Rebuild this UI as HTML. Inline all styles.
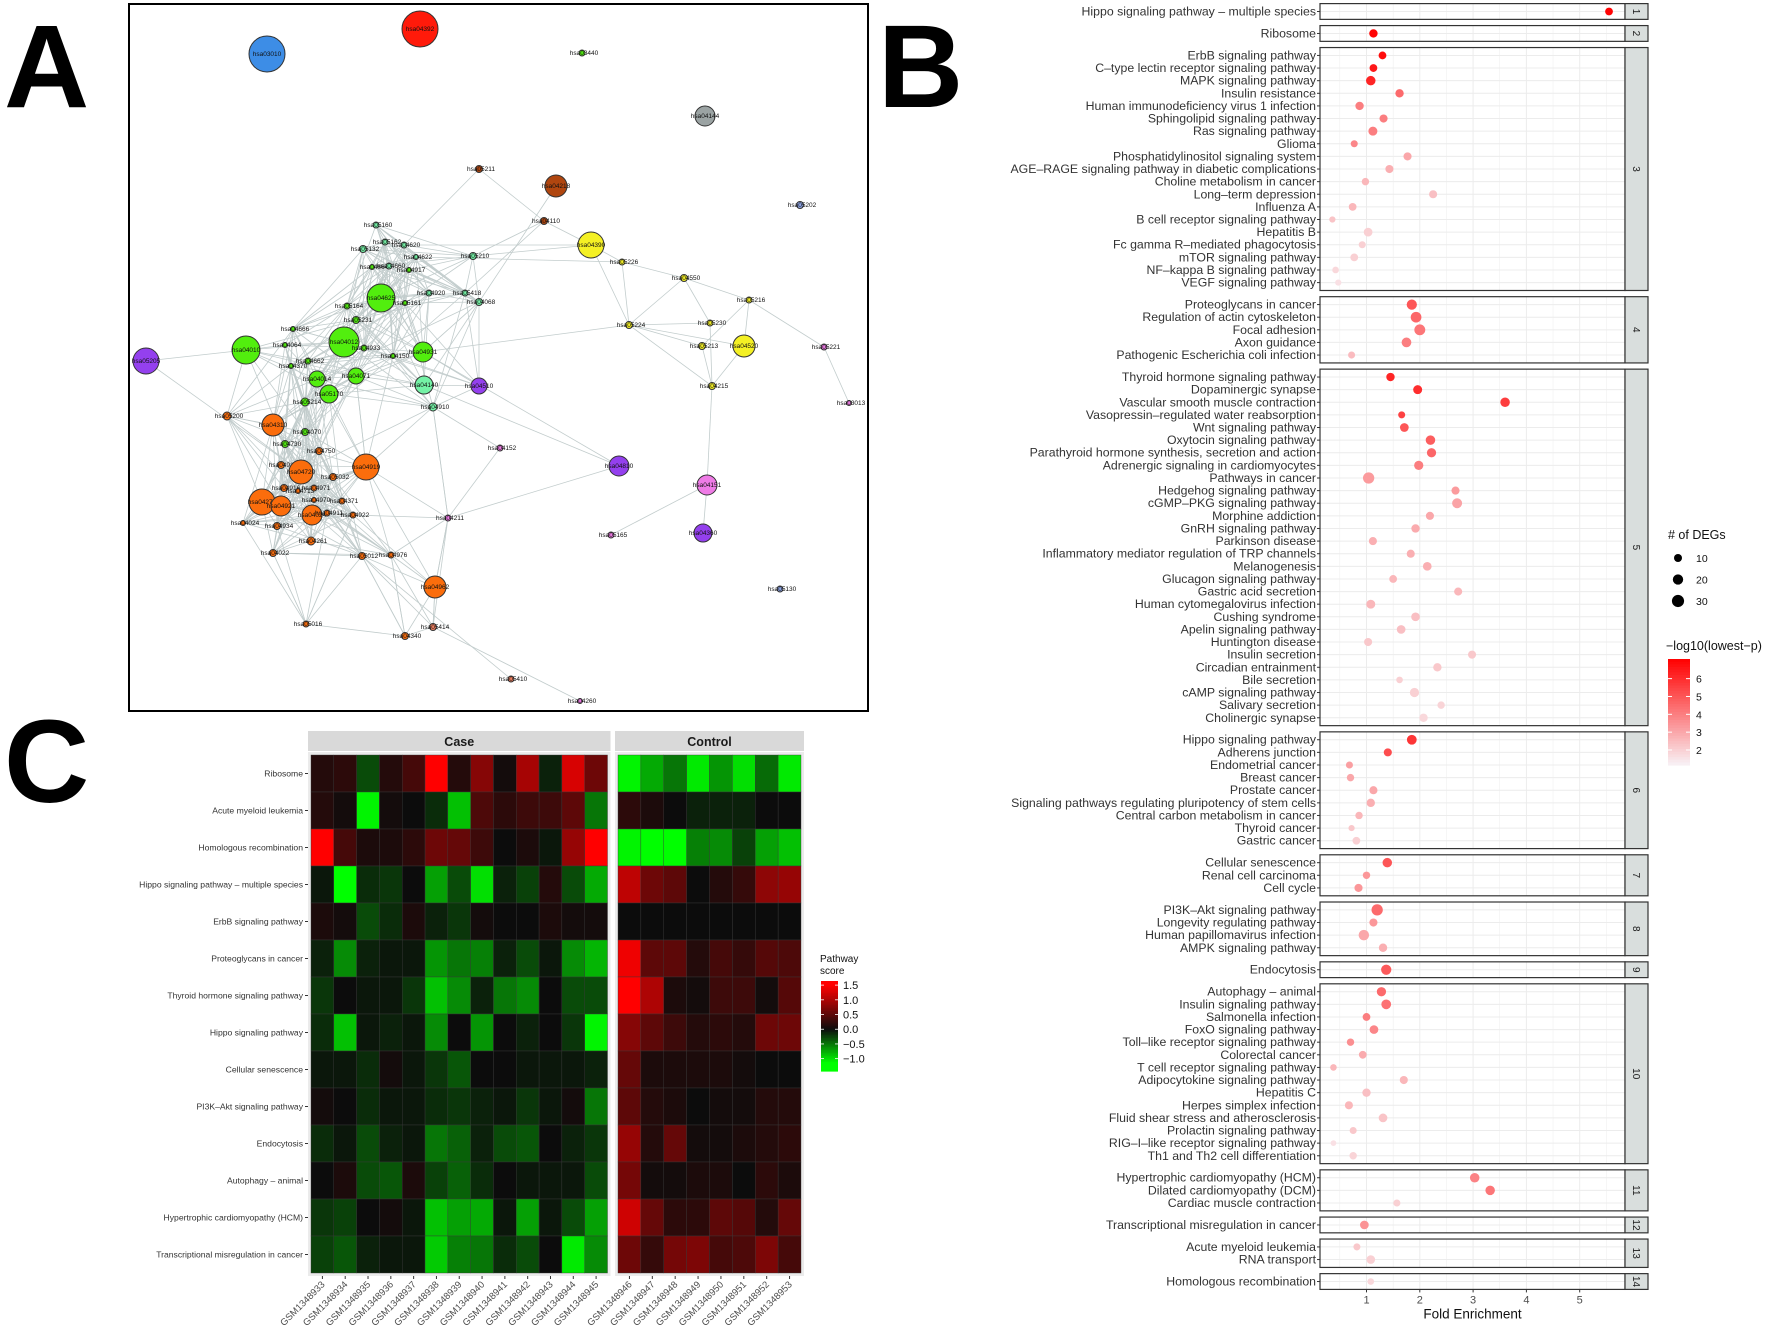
<!DOCTYPE html>
<html><head><meta charset="utf-8"><style>
html,body{margin:0;padding:0;background:#fff;}
svg{display:block;font-family:"Liberation Sans",sans-serif;}
</style></head><body>
<svg id="fig" width="1772" height="1327" viewBox="0 0 1772 1327" xmlns="http://www.w3.org/2000/svg">
<text x="4" y="107" font-size="118" font-weight="bold">A</text>
<text x="878" y="107" font-size="118" font-weight="bold">B</text>
<text x="4" y="802" font-size="118" font-weight="bold">C</text>
<rect x="129" y="4" width="739" height="707" fill="#fff" stroke="#000" stroke-width="2"/>
<g id="net"></g>
<g id="heat"></g>
<g id="dot"></g>
</svg>
<script>
const NS="http://www.w3.org/2000/svg";
function mk(tag,attrs,parent){const e=document.createElementNS(NS,tag);for(const k in attrs)e.setAttribute(k,attrs[k]);parent.appendChild(e);return e;}

/* ---------------- Network ---------------- */
const C={o:"#fb6d0c",g:"#52ee0e",m:"#74f2a6",lg:"#5fdc7a",b:"#b0460f",y:"#f4f024",p:"#9440ee",k:"#ef7be6",bl:"#3d8de6",gr:"#9ba3a3",lv:"#8fa6e8",s:"#f08060"};
const nodeNames=["hsa04392","hsa03010","hsa03440","hsa04144","hsa05202","hsa04390","hsa05226","hsa04550","hsa05216","hsa05224","hsa05230","hsa05213","hsa04520","hsa05221","hsa04215","hsa03013","hsa04810","hsa04151","hsa04360","hsa05165","hsa05130","hsa04260","hsa05410","hsa05211","hsa04218","hsa04110","hsa05160","hsa05162","hsa04620","hsa05132","hsa04622","hsa05210","hsa04664","hsa04660","hsa04917","hsa04625","hsa04920","hsa05418","hsa04068","hsa05164","hsa05161","hsa05231","hsa04666","hsa04012","hsa04064","hsa04933","hsa04010","hsa04150","hsa04931","hsa05205","hsa04662","hsa04370","hsa04014","hsa04071","hsa04140","hsa04510","hsa05170","hsa05214","hsa04910","hsa05200","hsa04310","hsa04070","hsa04730","hsa04750","hsa04152","hsa04912","hsa04720","hsa04919","hsa05032","hsa04916","hsa04713","hsa04971","hsa04270","hsa04921","hsa04970","hsa04371","hsa04024b","hsa04911","hsa04922","hsa04211","hsa04024","hsa04934","hsa04261","hsa04022","hsa05012","hsa04976","hsa04962","hsa05016","hsa05414","hsa04340"];
const nodeX=[420,267,582,705,800,591,622,684,749,629,710,702,744,824,712,849,619,707,703,611,780,580,511,479,556,544,376,385,404,363,416,473,372,389,409,381,429,465,479,347,405,356,293,344,285,364,246,393,423,146,308,291,317,356,424,479,329,305,433,227,273,305,285,319,500,281,301,366,333,284,298,314,262,281,314,342,312,327,353,448,243,277,311,273,362,391,435,306,433,405];
const nodeY=[29,54,53,116,205,245,262,278,300,325,323,346,346,347,386,403,466,485,533,535,589,701,679,169,186,221,225,242,245,249,257,256,267,266,270,298,293,293,302,306,303,320,329,342,345,348,350,356,352,361,361,366,379,376,385,386,394,402,407,416,425,432,444,451,448,465,472,467,477,488,491,488,502,506,500,501,515,513,515,518,523,526,541,553,556,555,587,624,627,636];
const nodeR=[18,18,3,10,3.5,13,3,3.5,3,3.5,3,3.5,11,3,3.5,2.5,10,10,9,3,3,2.5,3,3.5,11,3.5,3,3,3,3.5,2.5,3.5,2.5,3,2.5,14,3,3,3.5,3,2.5,3.5,2.5,15,2.5,3,14,2.5,10,13,3,2.5,8,8,9,8,9,4,4,4,11,3.5,3.5,3.5,3,3.5,12,13,3.5,3.5,2.5,3,13,10,2.5,3,10,3,3,3,2.5,3.5,4,3.5,3.5,3,11,3,3.5,3.5];
const nodeC=["#ff1a0a",C.bl,C.g,C.gr,C.lv,C.y,C.y,C.y,C.y,C.y,C.y,C.y,C.y,C.k,C.y,C.k,C.p,C.k,C.p,C.k,C.lv,C.k,C.s,C.b,C.b,C.b,C.m,C.m,C.m,C.m,C.m,C.m,C.g,C.m,C.g,C.g,C.m,C.m,C.m,C.g,C.g,C.g,C.g,C.g,C.g,C.g,C.g,C.g,C.g,C.p,C.g,C.g,C.g,C.g,C.m,C.p,C.g,C.g,C.m,C.o,C.o,C.g,C.g,C.o,C.k,C.o,C.o,C.o,C.o,C.o,C.o,C.o,C.o,C.o,C.o,C.o,C.o,C.o,C.o,C.k,C.o,C.o,C.o,C.o,C.o,C.o,C.o,C.o,C.s,C.o];
const extraEdges=[["hsa05211","hsa04620"],["hsa05211","hsa04110"],["hsa04218","hsa04068"],["hsa04110","hsa04390"],["hsa04110","hsa05210"],["hsa04110","hsa05418"],["hsa04390","hsa05210"],["hsa04390","hsa04620"],["hsa04390","hsa05224"],["hsa04390","hsa05226"],["hsa05226","hsa04550"],["hsa05226","hsa05224"],["hsa05226","hsa04622"],["hsa04550","hsa05224"],["hsa04550","hsa05230"],["hsa04550","hsa05216"],["hsa05216","hsa05213"],["hsa05216","hsa05221"],["hsa05216","hsa04520"],["hsa05224","hsa05230"],["hsa05224","hsa05213"],["hsa05224","hsa04520"],["hsa05224","hsa04215"],["hsa05230","hsa04215"],["hsa05213","hsa04215"],["hsa04520","hsa04215"],["hsa05221","hsa03013"],["hsa04931","hsa05224"],["hsa05205","hsa04010"],["hsa05205","hsa04720"],["hsa04810","hsa04140"],["hsa04810","hsa04931"],["hsa04151","hsa05165"],["hsa04151","hsa04360"],["hsa04152","hsa04211"],["hsa04152","hsa04910"],["hsa04211","hsa04962"],["hsa04211","hsa04922"],["hsa04211","hsa04810"],["hsa04211","hsa04910"],["hsa05414","hsa04260"],["hsa05414","hsa04962"],["hsa04962","hsa04340"],["hsa05016","hsa04022"],["hsa05016","hsa04922"],["hsa05410","hsa05012"],["hsa04510","hsa04931"],["hsa04919","hsa04071"],["hsa04910","hsa04720"],["hsa04215","hsa04151"],["hsa04962","hsa04919"],["hsa04340","hsa05012"],["hsa04340","hsa04976"],["hsa05414","hsa05012"],["hsa04068","hsa04931"],["hsa04068","hsa04014"],["hsa04510","hsa04140"],["hsa04510","hsa04012"]];
(function(){
  const g=document.getElementById('net');
  const eg=mk('g',{stroke:"#b8c4c4","stroke-width":"0.8",opacity:"0.85"},g);
  
  
  const idx={};nodeNames.forEach((n,i)=>idx[n]=i);
  const clusterMinY=215,clusterMaxX=490;
  for(let i=0;i<nodeNames.length;i++)for(let j=i+1;j<nodeNames.length;j++){
    const a=[nodeX[i],nodeY[i]],b=[nodeX[j],nodeY[j]];
    if(a[0]>clusterMaxX||b[0]>clusterMaxX||a[1]<clusterMinY||b[1]<clusterMinY)continue;
    if(a[0]<200||b[0]<200)continue;
    const d=Math.hypot(a[0]-b[0],a[1]-b[1]);
    if(d<120&&((i*7+j*13)%3!==1)){const l=mk('line',{x1:a[0],y1:a[1],x2:b[0],y2:b[1]},eg);}
  }
  extraEdges.forEach(e=>{const a=idx[e[0]],b=idx[e[1]];if(a===undefined||b===undefined)return;
    const l=mk('line',{x1:nodeX[a],y1:nodeY[a],x2:nodeX[b],y2:nodeY[b]},eg);
    
    });
  nodeNames.forEach((n,i)=>{
    const c=mk('circle',{cx:nodeX[i],cy:nodeY[i],r:nodeR[i],fill:nodeC[i],stroke:"#333","stroke-width":"1"},g);
    
    
    const big=nodeR[i]>=8;
    const t=mk('text',{x:big?nodeX[i]:nodeX[i]+2,y:nodeY[i]+2,"font-size":"6.5","text-anchor":"middle",fill:"#111"},g);
    t.textContent=n.replace('b','');
    
    
  });
})();

/* ---------------- Heatmap ---------------- */
const hmRows=["Ribosome","Acute myeloid leukemia","Homologous recombination","Hippo signaling pathway \u2013 multiple species","ErbB signaling pathway","Proteoglycans in cancer","Thyroid hormone signaling pathway","Hippo signaling pathway","Cellular senescence","PI3K\u2013Akt signaling pathway","Endocytosis","Autophagy \u2013 animal","Hypertrophic cardiomyopathy (HCM)","Transcriptional misregulation in cancer"];
const caseSamples=["GSM1348933","GSM1348934","GSM1348935","GSM1348936","GSM1348937","GSM1348938","GSM1348939","GSM1348940","GSM1348941","GSM1348942","GSM1348943","GSM1348944","GSM1348945"];
const controlSamples=["GSM1348946","GSM1348947","GSM1348948","GSM1348949","GSM1348950","GSM1348951","GSM1348952","GSM1348953"];
const caseValues=[
[0.15,0.2,-0.3,0.15,0.35,1.5,0.15,0.75,0.05,0.95,-0.1,1.25,0.6],
[0.15,0.05,-1.1,0.05,0,-0.15,-0.85,0.4,0.2,0.3,0.3,0.5,-0.5],
[1.5,0.35,0.1,0.1,0.2,0.6,0.55,0.3,0,0.1,-0.05,0.85,1.5],
[-0.05,-1.15,-0.15,-0.2,0,-0.7,-0.3,-1.0,-0.1,-0.25,0.15,-0.3,-0.75],
[0.1,0.05,-0.3,-0.15,0.1,-0.1,-0.2,0.05,0,0,0.1,0.05,0.05],
[-0.1,-0.6,-0.1,-0.05,-0.05,-0.65,-0.5,-0.55,-0.1,-0.3,-0.05,-0.6,-0.8],
[-0.2,0,-0.05,-0.05,-0.2,-0.85,-0.6,-0.1,-0.5,-0.6,0,-0.3,-0.3],
[-0.15,-0.85,-0.05,-0.1,-0.05,-0.6,0,-0.65,0,-0.1,0,-0.2,-1.1],
[-0.05,-0.05,-0.15,0.05,-0.05,-0.2,-0.35,0,0,-0.05,-0.05,-0.05,-0.1],
[0.05,0,-0.15,-0.05,-0.05,-0.15,-0.2,-0.1,-0.05,-0.2,-0.05,0.05,-0.5],
[-0.15,-0.05,-0.3,-0.1,-0.05,-0.5,-0.4,-0.1,-0.3,-0.35,0,-0.1,-0.2],
[0,0.1,-0.3,-0.35,0.1,-0.25,-0.4,-0.15,0,-0.05,-0.05,-0.05,-0.3],
[-0.2,-0.25,0,0.05,-0.05,-0.85,-0.7,-0.75,-0.05,-0.7,-0.05,-0.3,-0.7],
[-0.25,-0.35,-0.1,-0.05,-0.05,-0.9,-0.55,-0.5,-0.15,-0.3,0,-1.05,-0.6]];
const controlValues=[
[-1.1,-0.75,-0.5,-1.05,-0.65,-1.0,-0.45,-1.05],
[0.2,0.1,0,-0.1,-0.1,-0.1,0,0],
[-1.1,-1.15,-1.2,-0.55,-0.6,-0.25,-0.7,-0.85],
[1.1,0.6,0.5,0,0.15,0.25,0.8,0.85],
[0,0,0,0,0,0,0,0],
[1.4,0.5,0.5,0.15,0.35,0.25,0.45,0.4],
[1.5,1.0,0.1,0.05,0.3,0.3,0.05,0.45],
[0.75,0.5,0.3,0.15,0.2,0.15,0.6,0.6],
[0.55,0.1,0.1,0.1,0.1,0.05,0,0],
[0.5,0.15,0.1,0,0.05,0.05,0.15,0.15],
[0.85,0.15,0.55,0.05,0.05,0.1,0.15,0.2],
[0.65,0.05,0.05,0.1,0.1,0,0.2,0.1],
[1.2,0.55,0.2,0.2,0.5,0.45,0.15,0.55],
[0.6,0.25,0.65,0.7,0.35,0.4,0.7,0.35]];
const legendTicks=[1.5,1.0,0.5,0.0,-0.5,-1.0];
function hmColor(v){
  if(v>=0){const f=Math.min(1,v/1.5);return `rgb(${Math.round(12+243*f)},${Math.round(12*(1-f))},${Math.round(12*(1-f))})`;}
  const f=Math.min(1,-v/1.15);return `rgb(${Math.round(12*(1-f))},${Math.round(12+243*f)},${Math.round(12*(1-f))})`;
}
(function(){
  const g=document.getElementById('heat');
  const top=755,bottom=1273,rh=(bottom-top)/hmRows.length;
  const panels=[{x0:311,x1:607.5,s:caseSamples,v:caseValues,t:"Case",n:"case"},{x0:618,x1:801,s:controlSamples,v:controlValues,t:"Control",n:"control"}];
  panels.forEach(p=>{
    const bg=mk('rect',{x:p.x0-3,y:top-3,width:p.x1-p.x0+6,height:bottom-top+6,fill:"#ebebeb"},g);
    
    const st=mk('rect',{x:p.x0-3,y:731,width:p.x1-p.x0+6,height:20,fill:"#d9d9d9"},g);
    
    const tt=mk('text',{x:(p.x0+p.x1)/2,y:746,"font-size":"12.5","font-weight":"bold","text-anchor":"middle",fill:"#1a1a1a"},g);
    tt.textContent=p.t;
    const cw=(p.x1-p.x0)/p.s.length;
    p.v.forEach((row,ri)=>row.forEach((v,ci)=>{
      const r=mk('rect',{x:p.x0+ci*cw,y:top+ri*rh,width:cw,height:rh,fill:hmColor(v),stroke:"#3a3a3a","stroke-width":"0.4"},g);
      
    }));
    p.s.forEach((s,ci)=>{
      const cx=p.x0+(ci+0.5)*cw;
      mk('line',{x1:cx,y1:bottom+3,x2:cx,y2:bottom+6,stroke:"#333","stroke-width":"1"},g);
      const t=mk('text',{x:cx+3,y:bottom+12,"font-size":"9.5","text-anchor":"end",fill:"#4d4d4d",transform:`rotate(-45 ${cx+3} ${bottom+12})`},g);
      t.textContent=s;
    });
  });
  hmRows.forEach((r,ri)=>{
    const cy=top+(ri+0.5)*rh;
    const t=mk('text',{x:303,y:cy+3,"font-size":"8.6","text-anchor":"end",fill:"#333"},g);
    t.textContent=r;
    mk('line',{x1:305,y1:cy,x2:308,y2:cy,stroke:"#333"},g);
  });
  const lt=mk('text',{x:820,y:962,"font-size":"10",fill:"#111"},g);lt.textContent="Pathway";
  
  const lt2=mk('text',{x:820,y:974,"font-size":"10",fill:"#111"},g);lt2.textContent="score";
  
  const vTop=1.64,vBot=-1.42,yT=981,yB=1071,vy=v=>yT+(vTop-v)/(vTop-vBot)*(yB-yT);
  for(let k=0;k<60;k++){const v=vTop-(vTop-vBot)*(k+0.5)/60;
    const r=mk('rect',{x:821,y:yT+k*(yB-yT)/60,width:17,height:(yB-yT)/60+0.6,fill:hmColor(v)},g);
    }
  legendTicks.forEach(v=>{const y=vy(v);
    mk('line',{x1:821,y1:y,x2:824,y2:y,stroke:"#fff","stroke-width":"0.8"},g);
    mk('line',{x1:835,y1:y,x2:838,y2:y,stroke:"#fff","stroke-width":"0.8"},g);
    const t=mk('text',{x:843,y:y+4,"font-size":"11",fill:"#111"},g);t.textContent=(v<0?"\u2212"+Math.abs(v).toFixed(1):v.toFixed(1));
    });
})();

/* ---------------- Dot plot ---------------- */
const groupCounts=[1,1,19,5,28,9,3,4,1,14,3,1,2,1];
const pathwayNames=["Hippo signaling pathway \u2013 multiple species","Ribosome",
"ErbB signaling pathway","C\u2013type lectin receptor signaling pathway","MAPK signaling pathway","Insulin resistance","Human immunodeficiency virus 1 infection","Sphingolipid signaling pathway","Ras signaling pathway","Glioma","Phosphatidylinositol signaling system","AGE\u2013RAGE signaling pathway in diabetic complications","Choline metabolism in cancer","Long\u2013term depression","Influenza A","B cell receptor signaling pathway","Hepatitis B","Fc gamma R\u2013mediated phagocytosis","mTOR signaling pathway","NF\u2013kappa B signaling pathway","VEGF signaling pathway",
"Proteoglycans in cancer","Regulation of actin cytoskeleton","Focal adhesion","Axon guidance","Pathogenic Escherichia coli infection",
"Thyroid hormone signaling pathway","Dopaminergic synapse","Vascular smooth muscle contraction","Vasopressin\u2013regulated water reabsorption","Wnt signaling pathway","Oxytocin signaling pathway","Parathyroid hormone synthesis, secretion and action","Adrenergic signaling in cardiomyocytes","Pathways in cancer","Hedgehog signaling pathway","cGMP\u2013PKG signaling pathway","Morphine addiction","GnRH signaling pathway","Parkinson disease","Inflammatory mediator regulation of TRP channels","Melanogenesis","Glucagon signaling pathway","Gastric acid secretion","Human cytomegalovirus infection","Cushing syndrome","Apelin signaling pathway","Huntington disease","Insulin secretion","Circadian entrainment","Bile secretion","cAMP signaling pathway","Salivary secretion","Cholinergic synapse",
"Hippo signaling pathway","Adherens junction","Endometrial cancer","Breast cancer","Prostate cancer","Signaling pathways regulating pluripotency of stem cells","Central carbon metabolism in cancer","Thyroid cancer","Gastric cancer",
"Cellular senescence","Renal cell carcinoma","Cell cycle",
"PI3K\u2013Akt signaling pathway","Longevity regulating pathway","Human papillomavirus infection","AMPK signaling pathway",
"Endocytosis",
"Autophagy \u2013 animal","Insulin signaling pathway","Salmonella infection","FoxO signaling pathway","Toll\u2013like receptor signaling pathway","Colorectal cancer","T cell receptor signaling pathway","Adipocytokine signaling pathway","Hepatitis C","Herpes simplex infection","Fluid shear stress and atherosclerosis","Prolactin signaling pathway","RIG\u2013I\u2013like receptor signaling pathway","Th1 and Th2 cell differentiation",
"Hypertrophic cardiomyopathy (HCM)","Dilated cardiomyopathy (DCM)","Cardiac muscle contraction",
"Transcriptional misregulation in cancer",
"Acute myeloid leukemia","RNA transport",
"Homologous recombination"];
const foldEnrichment=[5.55,1.13,
1.30,1.13,1.08,1.62,0.87,1.32,1.12,0.77,1.77,1.43,0.98,2.25,0.74,0.36,1.03,0.92,0.77,0.42,0.47,
1.85,1.93,2.0,1.75,0.72,
1.45,1.96,3.6,1.66,1.71,2.2,2.22,1.98,1.04,2.67,2.7,2.19,1.92,1.12,1.83,2.14,1.5,2.72,1.08,1.92,1.65,1.03,2.98,2.33,1.62,1.9,2.4,2.07,
1.85,1.40,0.68,0.70,1.13,1.08,0.86,0.72,0.81,
1.39,1.00,0.85,
1.20,1.13,0.95,1.31,
1.37,
1.28,1.37,1.00,1.14,0.70,0.93,0.38,1.70,1.00,0.67,1.31,0.75,0.38,0.75,
3.03,3.32,1.57,
0.96,
0.82,1.08,
1.08];
const degCount=[8,10,
8,8,14,10,10,9,12,6,9,9,7,9,8,4,11,6,8,5,4,
17,19,20,15,6,
10,12,14,6,11,14,13,13,22,9,16,9,10,9,9,11,8,9,12,11,11,9,9,10,5,13,7,10,
15,9,6,7,9,10,7,4,8,
14,7,9,
22,9,18,10,
17,
13,15,8,11,7,8,5,9,10,9,11,6,3,7,
14,14,6,
11,
6,11,
5];
const negLogP=[7.0,7.0,
6.8,6.5,6.2,4.5,4.0,4.0,4.0,3.8,3.0,2.8,2.6,2.4,2.6,2.3,2.0,2.0,2.0,1.8,1.6,
5.0,4.6,4.2,4.0,2.5,
6.2,6.0,5.6,5.5,5.0,4.8,4.6,4.0,3.3,3.3,3.1,3.0,2.9,2.8,2.8,2.8,2.6,2.6,2.6,2.4,2.4,2.2,2.2,2.2,2.0,2.0,1.9,1.8,
5.8,5.2,3.2,3.0,3.0,2.8,2.6,2.2,2.0,
5.0,3.4,3.4,
4.5,3.4,3.0,2.8,
4.9,
4.5,4.3,4.0,3.8,3.6,2.9,2.6,2.6,2.4,2.6,2.3,2.2,1.6,1.9,
3.9,4.2,2.0,
3.5,
2.2,2.0,
1.8];
const feTicks=[1,2,3,4,5];
const sizeLegend=[10,20,30];
const pLegendTicks=[6,5,4,3,2];
(function(){
  const g=document.getElementById('dot');
  const px0=1320,px1=1625,sx0=1625,sx1=1648;
  const xs=v=>1366.5+(v-1)*53.3;
  const rs=n=>1.2+Math.sqrt(n)*0.95;
  const pmin=1.16,pmax=7.1;
  const pc=p=>{const f=Math.max(0,Math.min(1,(p-pmin)/(pmax-pmin)));return `rgb(${Math.round(248+7*f)},${Math.round(242*(1-f))},${Math.round(246*(1-f))})`;};
  const h=12.62,gap=6.2;let top=3.6,k=0;
  groupCounts.forEach((n,gi)=>{
    const H=(n+0.25)*h;
    const pg=mk('g',{},g);
    mk('rect',{x:px0,y:top,width:px1-px0,height:H,fill:"#fff"},pg);
    for(let v=0.5;v<=5.8;v+=0.5){const x=xs(v);if(x<px0||x>px1)continue;
      mk('line',{x1:x,y1:top,x2:x,y2:top+H,stroke:"#ececec","stroke-width":Number.isInteger(v)?"1":"0.5"},pg);}
    for(let i=0;i<n;i++){const y=top+(0.625+i)*h;
      mk('line',{x1:px0,y1:y,x2:px1,y2:y,stroke:"#ececec","stroke-width":"1"},pg);}
    for(let i=0;i<n;i++,k++){
      const y=top+(0.625+i)*h;
      mk('line',{x1:px0-3,y1:y,x2:px0,y2:y,stroke:"#333"},pg);
      const t=mk('text',{x:px0-4,y:y+4,"font-size":"12.3","text-anchor":"end",fill:"#333"},pg);
      t.textContent=pathwayNames[k];
      const c=mk('circle',{cx:xs(foldEnrichment[k]),cy:y,r:rs(degCount[k]),fill:pc(negLogP[k])},pg);
      
    }
    mk('rect',{x:px0,y:top,width:px1-px0,height:H,fill:"none",stroke:"#333","stroke-width":"1.2"},pg);
    mk('rect',{x:sx0,y:top,width:sx1-sx0,height:H,fill:"#d9dedd",stroke:"#333","stroke-width":"1.2"},pg);
    const cy=top+H/2,cx=(sx0+sx1)/2;
    const st=mk('text',{x:cx,y:cy,"font-size":"10","text-anchor":"middle",fill:"#1a1a1a",transform:`rotate(90 ${cx} ${cy}) translate(0 3.5)`},pg);
    st.textContent=String(gi+1);
    top+=H+gap;
  });
  const axY=top-gap;
  feTicks.forEach(v=>{const x=xs(v);mk('line',{x1:x,y1:axY,x2:x,y2:axY+3,stroke:"#333"},g);
    const t=mk('text',{x:x,y:axY+14,"font-size":"11","text-anchor":"middle",fill:"#4d4d4d"},g);t.textContent=v;
    });
  const xt=mk('text',{x:(px0+px1)/2,y:axY+29,"font-size":"13.5","text-anchor":"middle",fill:"#111"},g);xt.textContent="Fold Enrichment";
  
  const l1=mk('text',{x:1668,y:539,"font-size":"12.5",fill:"#111"},g);l1.textContent="# of DEGs";
  
  sizeLegend.forEach((s,i)=>{const y=558+i*21.5;
    const c=mk('circle',{cx:1678,cy:y,r:rs(s)*0.95,fill:"#000"},g);
    const t=mk('text',{x:1696,y:y+4,"font-size":"10.5",fill:"#111"},g);t.textContent=s;});
  const l2=mk('text',{x:1666,y:650,"font-size":"12.5",fill:"#111"},g);l2.textContent="\u2212log10(lowest\u2212p)";
  
  const yT=659,yB=765,py=p=>yT+(pmax-p)/(pmax-pmin)*(yB-yT);
  for(let i=0;i<40;i++){const p=pmax-(pmax-pmin)*(i+0.5)/40;
    const r=mk('rect',{x:1668,y:yT+i*(yB-yT)/40,width:22,height:(yB-yT)/40+0.6,fill:pc(p)},g);
    }
  pLegendTicks.forEach(p=>{const y=py(p);
    mk('line',{x1:1668,y1:y,x2:1672,y2:y,stroke:"#fff"},g);mk('line',{x1:1686,y1:y,x2:1690,y2:y,stroke:"#fff"},g);
    const t=mk('text',{x:1696,y:y+4,"font-size":"10.5",fill:"#111"},g);t.textContent=p;
    });
})();
</script>
</body></html>
